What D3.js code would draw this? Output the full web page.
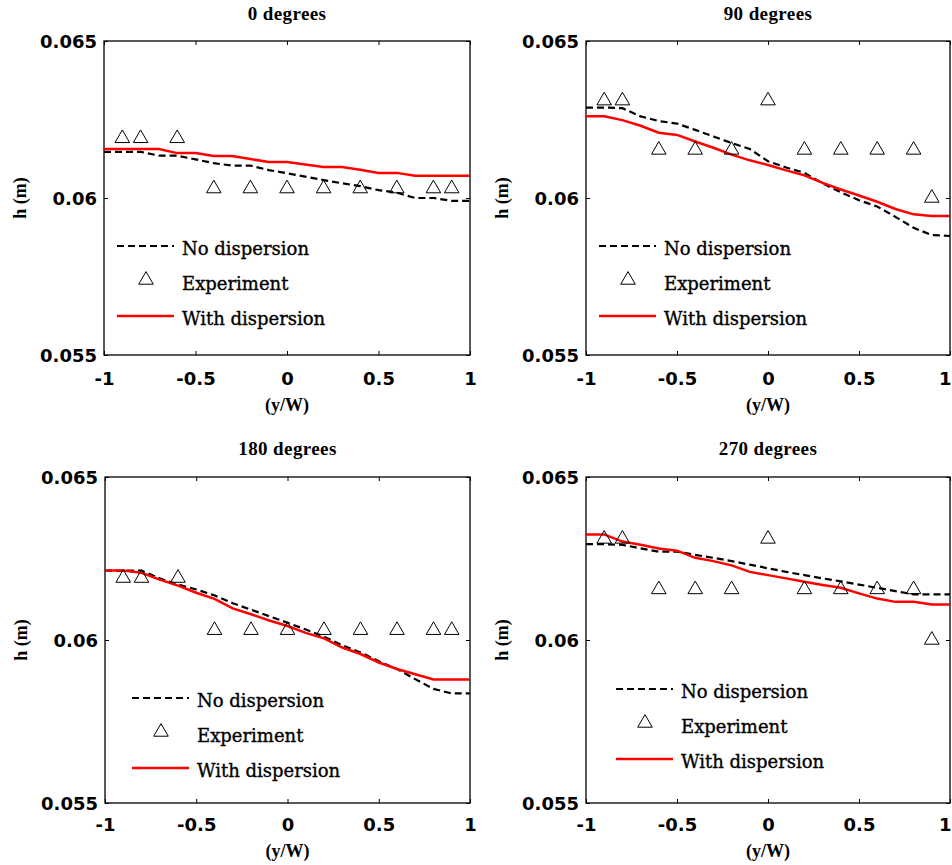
<!DOCTYPE html>
<html>
<head>
<meta charset="UTF-8">
<title>h vs y/W</title>
<script src="https://cdn.jsdelivr.net/npm/d3@7"></script>
<style>
  body { margin: 0; background: #fff; }
  svg { display: block; }
  .tick text { font-family: "DejaVu Sans", sans-serif; font-weight: bold; font-size: 18px; fill: #000; }
  .tick line { stroke: #000; stroke-width: 1; }
  .title { font-family: "Liberation Serif", serif; font-weight: bold; font-size: 19px; letter-spacing: 0.4px; }
  .axlabel { font-family: "Liberation Serif", serif; font-weight: bold; font-size: 18px; }
  .legend text { font-family: "DejaVu Serif", serif; font-size: 18px; stroke: #000; stroke-width: 0.35px; }
</style>
</head>
<body>
<script>
// simulation x positions (y/W)
var xSim = [-1, -0.9, -0.8, -0.7, -0.6, -0.5, -0.4, -0.3, -0.2, -0.1, 0,
            0.1, 0.2, 0.3, 0.4, 0.5, 0.6, 0.7, 0.8, 0.9, 1];
// experiment x positions
var xExp = [-0.9, -0.8, -0.6, -0.4, -0.2, 0, 0.2, 0.4, 0.6, 0.8, 0.9];

var titles = ['0 degrees', '90 degrees', '180 degrees', '270 degrees'];
var legendLabels = ['No dispersion', 'Experiment', 'With dispersion'];
var xTicks = [-1, -0.5, 0, 0.5, 1];
var xTickLabels = ['-1', '-0.5', '0', '0.5', '1'];
var yTicks = [0.055, 0.06, 0.065];
var yTickLabels = ['0.055', '0.06', '0.065'];

// 0 degrees
var noDisp0 = [0.06147, 0.06147, 0.06147, 0.06135, 0.06135, 0.06123, 0.06111, 0.06103, 0.06103, 0.06089, 0.06079,
               0.06068, 0.06057, 0.06047, 0.06038, 0.06025, 0.06017, 0.06000, 0.06000, 0.05991, 0.05991];
var withDisp0 = [0.06156, 0.06156, 0.06156, 0.06156, 0.06143, 0.06143, 0.06134, 0.06134, 0.06124, 0.06115, 0.06115,
                 0.06107, 0.06099, 0.06099, 0.06090, 0.06080, 0.06080, 0.06071, 0.06071, 0.06071, 0.06071];
var exp0 = [0.0619, 0.0619, 0.0619, 0.0603, 0.0603, 0.0603, 0.0603, 0.0603, 0.0603, 0.0603, 0.0603];

// 90 degrees
var noDisp90 = [0.06288, 0.06288, 0.06286, 0.06260, 0.06245, 0.06237, 0.06217, 0.06196, 0.06175, 0.06156, 0.06117,
                0.06097, 0.06080, 0.06047, 0.06018, 0.05993, 0.05973, 0.05940, 0.05905, 0.05882, 0.05879];
var withDisp90 = [0.06260, 0.06260, 0.06248, 0.06230, 0.06208, 0.06201, 0.06180, 0.06160, 0.06138, 0.06120, 0.06105,
                  0.06088, 0.06072, 0.06048, 0.06027, 0.06008, 0.05988, 0.05965, 0.05948, 0.05943, 0.05943];
var exp90 = [0.0631, 0.0631, 0.06153, 0.06153, 0.06153, 0.0631, 0.06153, 0.06153, 0.06153, 0.06153, 0.0600];

// 180 degrees
var noDisp180 = [0.06213, 0.06213, 0.06213, 0.06189, 0.06170, 0.06155, 0.06137, 0.06113, 0.06093, 0.06073, 0.06053,
                 0.06032, 0.06010, 0.05984, 0.05962, 0.05935, 0.05911, 0.05880, 0.05850, 0.05836, 0.05836];
var withDisp180 = [0.06213, 0.06213, 0.06206, 0.06185, 0.06167, 0.06145, 0.06126, 0.06097, 0.06079, 0.06060, 0.06043,
                   0.06022, 0.06005, 0.05977, 0.05957, 0.05931, 0.05911, 0.05895, 0.05879, 0.05879, 0.05879];
var exp180 = [0.0619, 0.0619, 0.0619, 0.0603, 0.0603, 0.0603, 0.0603, 0.0603, 0.0603, 0.0603, 0.0603];

// 270 degrees
var noDisp270 = [0.06294, 0.06294, 0.06292, 0.06281, 0.06271, 0.06271, 0.06261, 0.06252, 0.06242, 0.06231, 0.06220,
                 0.06209, 0.06199, 0.06189, 0.06180, 0.06170, 0.06160, 0.06150, 0.06140, 0.06140, 0.06140];
var withDisp270 = [0.06324, 0.06324, 0.06302, 0.06292, 0.06281, 0.06274, 0.06252, 0.06242, 0.06229, 0.06209, 0.06199,
                   0.06189, 0.06179, 0.06169, 0.06160, 0.06143, 0.06127, 0.06117, 0.06117, 0.06109, 0.06109];
var exp270 = [0.0631, 0.0631, 0.06155, 0.06155, 0.06155, 0.0631, 0.06155, 0.06155, 0.06155, 0.06155, 0.0600];

var noDisp = [noDisp0, noDisp90, noDisp180, noDisp270];
var withDisp = [withDisp0, withDisp90, withDisp180, withDisp270];
var expData = [exp0, exp90, exp180, exp270];

// panel boxes and legend anchors (pixels)
var panels = [
  {left: 104, top: 41, w: 366, h: 314, lx: 13, ly: 205},
  {left: 586, top: 41, w: 364, h: 314, lx: 13, ly: 205},
  {left: 105, top: 477, w: 365, h: 326, lx: 27, ly: 221},
  {left: 586, top: 477, w: 364, h: 326, lx: 30, ly: 212}
];

var svg = d3.select('body').append('svg')
  .attr('width', 952)
  .attr('height', 865);

var tri = d3.symbol().type(d3.symbolTriangle).size(92);

panels.forEach(function(p, k) {
  var g = svg.append('g')
    .attr('transform', 'translate(' + p.left + ',' + p.top + ')');

  var x = d3.scaleLinear().domain([-1, 1]).range([0, p.w]);
  var y = d3.scaleLinear().domain([0.055, 0.065]).range([p.h, 0]);

  // axes with inward ticks, mirrored on top/right
  var xb = g.append('g').attr('transform', 'translate(0,' + p.h + ')')
    .call(d3.axisBottom(x).tickValues(xTicks).tickSizeInner(-4).tickSizeOuter(0)
      .tickFormat(function(d, i) { return xTickLabels[i]; }));
  xb.selectAll('text').attr('y', k < 2 ? 24 : 22).attr('dy', '0.35em');
  // the right-hand panels sit at the page edge: keep the last label inside
  if (k % 2 == 1) {
    xb.selectAll('text').filter(function(d) { return d == 1; })
      .attr('text-anchor', 'end').attr('x', 951 - p.left - p.w);
  }

  var yl = g.append('g')
    .call(d3.axisLeft(y).tickValues(yTicks).tickSizeInner(-4).tickSizeOuter(0)
      .tickFormat(function(d, i) { return yTickLabels[i]; }));
  yl.selectAll('text').attr('x', -7).attr('dy', '0.35em');

  g.append('g')
    .call(d3.axisTop(x).tickValues(xTicks).tickSizeInner(-4).tickSizeOuter(0).tickFormat(''));
  g.append('g').attr('transform', 'translate(' + p.w + ',0)')
    .call(d3.axisRight(y).tickValues(yTicks).tickSizeInner(-4).tickSizeOuter(0).tickFormat(''));

  g.selectAll('.domain').remove();

  g.append('rect')
    .attr('width', p.w).attr('height', p.h)
    .attr('fill', 'none').attr('stroke', '#000').attr('stroke-width', 1.3);

  var line = d3.line()
    .x(function(d, i) { return x(xSim[i]); })
    .y(function(d) { return y(d); });

  g.append('path')
    .datum(noDisp[k])
    .attr('d', line)
    .attr('fill', 'none')
    .attr('stroke', '#000')
    .attr('stroke-width', 2.2)
    .attr('stroke-dasharray', '7,4');

  g.append('path')
    .datum(withDisp[k])
    .attr('d', line)
    .attr('fill', 'none')
    .attr('stroke', '#ff0000')
    .attr('stroke-width', 2.5);

  g.selectAll('.exp')
    .data(expData[k])
    .enter()
    .append('path')
    .attr('class', 'exp')
    .attr('d', tri)
    .attr('transform', function(d, i) { return 'translate(' + x(xExp[i]) + ',' + y(d) + ')'; })
    .attr('fill', 'none')
    .attr('stroke', '#000')
    .attr('stroke-width', 1);

  // titles and labels
  g.append('text').attr('class', 'title')
    .attr('x', p.w / 2).attr('y', k < 2 ? -21 : -22)
    .attr('text-anchor', 'middle')
    .text(titles[k]);

  g.append('text').attr('class', 'axlabel')
    .attr('x', p.w / 2).attr('y', p.h + (k < 2 ? 50 : 48))
    .attr('text-anchor', 'middle').attr('dy', '0.35em')
    .text('(y/W)');

  g.append('text').attr('class', 'axlabel')
    .attr('transform', 'translate(-84,' + (p.h / 2) + ') rotate(-90)')
    .attr('text-anchor', 'middle').attr('dy', '0.35em')
    .text('h (m)');

  // legend
  var lg = g.append('g').attr('class', 'legend')
    .attr('transform', 'translate(' + p.lx + ',' + p.ly + ')');
  lg.append('line').attr('x1', 0).attr('x2', 57).attr('y1', 0).attr('y2', 0)
    .attr('stroke', '#000').attr('stroke-width', 2.2).attr('stroke-dasharray', '7,4');
  lg.append('path').attr('d', tri).attr('transform', 'translate(29,34)')
    .attr('fill', 'none').attr('stroke', '#000').attr('stroke-width', 1);
  lg.append('line').attr('x1', 0).attr('x2', 57).attr('y1', 70).attr('y2', 70)
    .attr('stroke', '#ff0000').attr('stroke-width', 2.5);
  lg.selectAll('text')
    .data(legendLabels)
    .enter()
    .append('text')
    .attr('x', 65)
    .attr('y', function(d, i) { return i * 35 + 3; })
    .attr('dy', '0.35em')
    .text(function(d) { return d; });
});
</script>
</body>
</html>
